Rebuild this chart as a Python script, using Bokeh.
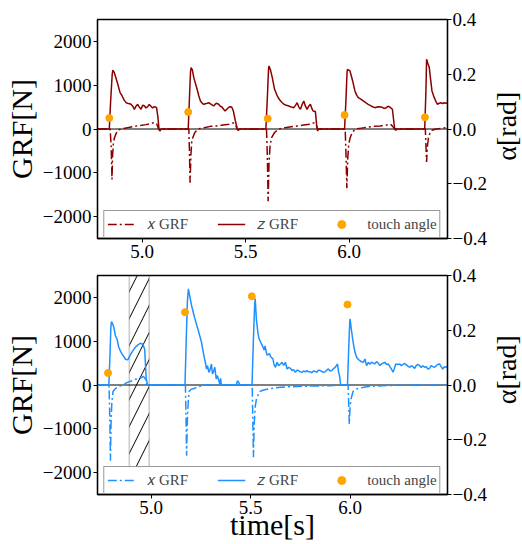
import math
from bokeh.plotting import figure
from bokeh.models import (Range1d, LinearAxis, Span, BoxAnnotation,
                          FixedTicker, CustomJSTickFormatter)
from bokeh.core.properties import value
from bokeh.layouts import column, row
from bokeh.embed import file_html
from bokeh.resources import INLINE

# ---------------- data ----------------
# top panel: time [s], GRF [N]
top_z = [(4.785, 0), (4.842, 0), (4.848, 600), (4.856, 1250), (4.859, 1342), (4.865, 1300),
         (4.872, 1200), (4.883, 1021), (4.894, 830), (4.904, 754), (4.914, 660), (4.923, 601),
         (4.935, 580), (4.947, 564), (4.955, 520), (4.963, 450), (4.971, 520), (4.979, 564),
         (4.987, 500), (4.995, 450), (5.003, 540), (5.011, 530), (5.019, 480), (5.027, 510),
         (5.035, 560), (5.043, 520), (5.051, 480), (5.059, 510), (5.07, 490), (5.076, 300),
         (5.082, 0), (5.087, -40), (5.092, 0),
         (5.223, 0), (5.229, 700), (5.234, 1300), (5.237, 1400), (5.243, 1350), (5.25, 1173),
         (5.258, 1040), (5.266, 907), (5.274, 760), (5.282, 640), (5.29, 590), (5.298, 564),
         (5.31, 580), (5.322, 601), (5.334, 560), (5.346, 526), (5.358, 590), (5.37, 564),
         (5.378, 520), (5.386, 503), (5.394, 450), (5.401, 411), (5.409, 450), (5.417, 487),
         (5.425, 510), (5.433, 503), (5.441, 411), (5.45, 200), (5.46, 0), (5.465, -30), (5.47, 0),
         (5.598, 0), (5.605, 700), (5.611, 1380), (5.613, 1440), (5.62, 1350), (5.629, 1173),
         (5.64, 907), (5.653, 754), (5.661, 690), (5.669, 640), (5.677, 600), (5.685, 564),
         (5.697, 540), (5.709, 526), (5.721, 500), (5.733, 487), (5.741, 540), (5.749, 601),
         (5.757, 500), (5.765, 450), (5.773, 560), (5.781, 640), (5.789, 520), (5.797, 450),
         (5.805, 520), (5.813, 564), (5.82, 470), (5.826, 411), (5.837, 400), (5.843, 100),
         (5.848, -46), (5.853, 0),
         (5.978, 0), (5.985, 700), (5.99, 1300), (5.992, 1364), (6.004, 1326), (6.01, 1220),
         (6.017, 1097), (6.028, 869), (6.036, 780), (6.044, 716), (6.056, 680), (6.068, 640),
         (6.08, 600), (6.092, 564), (6.108, 520), (6.124, 487), (6.14, 510), (6.156, 503),
         (6.168, 470), (6.18, 487), (6.188, 520), (6.196, 503), (6.204, 470), (6.209, 450),
         (6.215, 200), (6.22, 0), (6.225, -30), (6.23, 0),
         (6.365, 0), (6.371, 900), (6.374, 1592), (6.38, 1500), (6.387, 1402), (6.393, 1150),
         (6.4, 869), (6.411, 716), (6.42, 620), (6.427, 564), (6.435, 590), (6.443, 601),
         (6.451, 580), (6.459, 600), (6.467, 590), (6.475, 600)]
top_x = [(4.785, 0), (4.846, 0), (4.851, -400), (4.855, -1150), (4.858, -600), (4.862, -300),
         (4.867, -200), (4.875, -100), (4.885, -20), (4.9, 0), (4.93, 30), (4.96, 60),
         (4.99, 80), (5.02, 100), (5.04, 120), (5.06, 150), (5.07, 130), (5.08, 0), (5.087, -40),
         (5.092, 0),
         (5.226, 0), (5.229, -500), (5.232, -1227), (5.236, -600), (5.24, -300), (5.245, -200),
         (5.255, -80), (5.27, 0), (5.3, 30), (5.33, 60), (5.36, 70), (5.39, 90), (5.42, 110),
         (5.44, 140), (5.45, 100), (5.46, 0), (5.465, -30), (5.47, 0),
         (5.601, 0), (5.605, -600), (5.609, -1650), (5.613, -800), (5.618, -400), (5.625, -200),
         (5.64, -80), (5.66, 0), (5.69, 30), (5.72, 50), (5.75, 70), (5.78, 90), (5.81, 110),
         (5.83, 140), (5.84, 100), (5.848, 0),
         (5.981, 0), (5.985, -600), (5.989, -1350), (5.993, -700), (5.998, -350), (6.005, -200),
         (6.015, -80), (6.03, 0), (6.06, 20), (6.09, 40), (6.12, 60), (6.15, 70), (6.18, 90),
         (6.2, 110), (6.21, 60), (6.22, 0),
         (6.368, 0), (6.371, -400), (6.374, -750), (6.378, -400), (6.383, -200), (6.39, -100),
         (6.4, -30), (6.42, 0), (6.45, 20), (6.475, 30)]
top_touch_t = [4.842, 5.223, 5.607, 5.978, 6.366]
top_touch_alpha = [0.040, 0.062, 0.038, 0.051, 0.043]

# bottom panel
bot_z = [(4.73, 0), (4.787, 0), (4.793, 700), (4.797, 1300), (4.8, 1449), (4.806, 1400),
         (4.812, 1319), (4.82, 1129), (4.828, 1051), (4.837, 862), (4.845, 780), (4.853, 709),
         (4.862, 650), (4.87, 594), (4.878, 575), (4.883, 580), (4.89, 640), (4.898, 709),
         (4.909, 790), (4.92, 862), (4.932, 910), (4.945, 953), (4.958, 930), (4.967, 823),
         (4.972, 400), (4.975, 137), (4.982, 0),
         (5.17, 0), (5.176, 1000), (5.182, 1900), (5.187, 2194), (5.195, 2000), (5.203, 1815),
         (5.212, 1650), (5.22, 1509), (5.228, 1380), (5.237, 1243), (5.245, 1110), (5.253, 976),
         (5.259, 820), (5.265, 672), (5.272, 520), (5.278, 366), (5.283, 443), (5.29, 290),
         (5.295, 330), (5.303, 480), (5.308, 251), (5.313, 300), (5.32, 404), (5.327, 137),
         (5.333, 215), (5.34, 100), (5.345, 23), (5.349, 152), (5.353, 0),
         (5.428, 0), (5.434, 100), (5.44, 60), (5.445, 0),
         (5.507, 0), (5.513, 900), (5.52, 1800), (5.523, 1974), (5.529, 1500), (5.537, 1175),
         (5.543, 1050), (5.55, 983), (5.556, 920), (5.562, 869), (5.568, 800), (5.573, 892),
         (5.578, 760), (5.583, 679), (5.589, 700), (5.595, 718), (5.6, 650), (5.606, 620),
         (5.612, 603), (5.617, 480), (5.625, 404), (5.633, 519), (5.641, 443), (5.65, 480),
         (5.658, 519), (5.666, 450), (5.675, 519), (5.683, 366), (5.691, 404), (5.7, 380),
         (5.708, 330), (5.716, 350), (5.725, 290), (5.733, 340), (5.741, 329), (5.75, 300),
         (5.758, 290), (5.766, 320), (5.775, 300), (5.783, 329), (5.791, 300), (5.8, 300),
         (5.808, 280), (5.816, 320), (5.825, 310), (5.833, 290), (5.841, 340), (5.85, 329),
         (5.858, 310), (5.866, 290), (5.875, 300), (5.883, 340), (5.891, 366), (5.9, 320),
         (5.908, 330), (5.916, 370), (5.925, 404), (5.931, 440), (5.937, 480), (5.942, 300),
         (5.947, 215), (5.953, 0),
         (5.987, 0), (5.993, 800), (5.998, 1400), (6.0, 1509), (6.007, 1250), (6.013, 1051),
         (6.019, 880), (6.025, 747), (6.033, 633), (6.042, 580), (6.05, 557), (6.058, 530),
         (6.067, 519), (6.075, 594), (6.083, 443), (6.092, 519), (6.1, 470), (6.108, 519),
         (6.117, 500), (6.125, 481), (6.133, 534), (6.142, 500), (6.15, 443), (6.158, 480),
         (6.167, 500), (6.175, 519), (6.183, 470), (6.192, 481), (6.2, 420), (6.208, 366),
         (6.216, 290), (6.222, 366), (6.23, 481), (6.24, 470), (6.25, 481), (6.258, 440),
         (6.266, 470), (6.275, 490), (6.283, 460), (6.291, 430), (6.3, 404), (6.308, 440),
         (6.316, 420), (6.325, 380), (6.333, 450), (6.341, 470), (6.35, 443), (6.358, 400),
         (6.366, 440), (6.375, 404), (6.383, 420), (6.391, 366), (6.4, 380), (6.408, 443),
         (6.416, 420), (6.425, 404), (6.433, 440), (6.441, 470), (6.45, 481), (6.458, 420),
         (6.466, 366), (6.475, 420), (6.483, 404), (6.49, 430)]
bot_x = [(4.73, 0), (4.788, 0), (4.792, -800), (4.795, -1728), (4.798, -900), (4.802, -400),
         (4.808, -150), (4.815, -110), (4.83, -45), (4.86, 0), (4.88, 60), (4.9, 90),
         (4.92, 130), (4.945, 153), (4.96, 199), (4.97, 150), (4.978, 0),
         (5.172, 0), (5.175, -700), (5.178, -1615), (5.182, -800), (5.186, -400), (5.19, -150),
         (5.2, -100), (5.215, -80), (5.24, -40), (5.265, 0),
         (5.508, 0), (5.511, -800), (5.514, -1650), (5.518, -900), (5.523, -500), (5.53, -300),
         (5.545, -150), (5.56, -120), (5.6, -80), (5.65, -50), (5.7, -40), (5.8, -25),
         (5.9, -15), (5.95, 0),
         (5.99, 0), (5.993, -400), (5.996, -891), (6.0, -500), (6.006, -300), (6.015, -150),
         (6.033, -90), (6.07, -50), (6.1, -30), (6.2, -10), (6.3, 0), (6.49, 0)]
bot_touch_t = [4.783, 5.17, 5.506, 5.987]
bot_touch_alpha = [0.044, 0.266, 0.324, 0.294]

hatch_interval = [4.89, 4.99]

top_xlim = [4.785, 6.475]
bot_xlim = [4.73, 6.49]
grf_lim = [-2500, 2500]
alpha_lim = [-0.4, 0.4]
grf_ticks = [-2000, -1000, 0, 1000, 2000]
alpha_ticks = [-0.4, -0.2, 0.0, 0.2, 0.4]
time_ticks = [5.0, 5.5, 6.0]

FONT = "Liberation Serif"
MINUS_INT = "return tick.toFixed(0).replace('-', '\u2212');"
MINUS_1 = "return tick.toFixed(1).replace('-', '\u2212');"

MAIN_W = 489      # main figure width (frame 97..449 + right tick area)
LAB_W = 33        # strip holding the right-hand axis title


def style_axis(ax, fmt):
    ax.major_label_text_font = FONT
    ax.major_label_text_font_size = "19px"
    ax.major_label_text_color = "black"
    ax.axis_label_text_font = FONT
    ax.axis_label_text_font_size = "30px"
    ax.axis_label_text_font_style = "normal"
    ax.axis_label_text_color = "black"
    ax.major_tick_out = 4
    ax.major_tick_in = 0
    ax.minor_tick_out = 0
    ax.minor_tick_in = 0
    ax.major_tick_line_color = "black"
    ax.axis_line_color = "black"
    ax.axis_line_width = 1.3
    ax.major_label_standoff = 2
    ax.axis_label_standoff = 2
    ax.formatter = CustomJSTickFormatter(code=fmt)


def panel(z, x, tt, ta, color, xlim, height, top_border, bottom_border,
          hatch=None, xlabel=None):
    p = figure(width=MAIN_W, height=height,
               x_range=Range1d(*xlim), y_range=Range1d(*grf_lim),
               output_backend="svg", toolbar_location=None,
               min_border_left=97, min_border_right=MAIN_W - 97 - 352,
               min_border_top=top_border, min_border_bottom=bottom_border)
    p.extra_y_ranges = {"alpha": Range1d(*alpha_lim)}
    p.grid.visible = False
    p.outline_line_color = "black"
    p.outline_line_width = 1.3
    p.background_fill_color = "white"
    p.border_fill_color = "white"

    style_axis(p.xaxis[0], MINUS_1)
    p.xaxis[0].ticker = FixedTicker(ticks=time_ticks)
    if xlabel is not None:
        p.xaxis[0].axis_label = xlabel
        p.xaxis[0].axis_label_standoff = -9
    style_axis(p.yaxis[0], MINUS_INT)
    p.yaxis[0].ticker = FixedTicker(ticks=grf_ticks)
    p.yaxis[0].axis_label = "GRF[N]"

    ra = LinearAxis(y_range_name="alpha", ticker=FixedTicker(ticks=alpha_ticks))
    style_axis(ra, MINUS_1)
    ra.major_label_standoff = 1
    p.add_layout(ra, "right")

    if hatch is not None:
        p.add_layout(BoxAnnotation(left=hatch[0], right=hatch[1], fill_color=None,
                                   fill_alpha=0,
                                   hatch_pattern="/", hatch_color="black",
                                   hatch_scale=27, hatch_weight=1,
                                   line_color="#555555", line_width=1.6,
                                   level="underlay"))
    p.add_layout(Span(location=0, dimension="width", line_color="black",
                      line_width=1, level="underlay"))

    xt, xv = zip(*x)
    zt, zv = zip(*z)
    p.line(list(xt), list(xv), color=color, line_width=1.5, line_dash="9 3 2 3",
           legend_label="𝑥 GRF")
    p.line(list(zt), list(zv), color=color, line_width=1.5, legend_label="𝑧 GRF")
    p.scatter(tt, ta, y_range_name="alpha", size=7, color="#ffa500",
              legend_label="touch angle")

    lg = p.legend[0]
    lg.orientation = "horizontal"
    lg.location = "bottom_center"
    lg.margin = 0
    lg.padding = 3
    lg.spacing = 29
    lg.glyph_width = 28
    lg.glyph_height = 20
    lg.label_standoff = 12
    lg.label_text_font = FONT
    lg.label_text_font_size = "15px"
    lg.label_height = 20
    lg.border_line_color = "#333333"
    lg.border_line_width = 1.2
    lg.background_fill_color = "white"
    lg.background_fill_alpha = 1.0
    return p


def title_strip(height, frame_top, frame_h, text):
    # narrow strip to the right of a panel carrying the rotated right-axis title
    f = figure(width=LAB_W, height=height, x_range=Range1d(0, 1),
               y_range=Range1d(0, height), output_backend="svg",
               toolbar_location=None, min_border=0,
               x_axis_type=None, y_axis_type=None)
    f.outline_line_color = None
    f.grid.visible = False
    f.background_fill_color = "white"
    f.border_fill_color = "white"
    f.text(x=[0.5], y=[height - frame_top - frame_h / 2], text=[text],
           angle=math.pi / 2, text_align="center", text_baseline="middle",
           text_font=value(FONT), text_font_size="28px", text_color="black")
    return f


# top: frame rows 19..238 ; bottom: frame rows 275..494
p1 = panel(top_z, top_x, top_touch_t, top_touch_alpha, "#8b0000", top_xlim,
           264, 19, 26)
p2 = panel(bot_z, bot_x, bot_touch_t, bot_touch_alpha, "#1e90ff", bot_xlim,
           280, 11, 50, hatch=hatch_interval, xlabel="time[s]")
s1 = title_strip(264, 19, 219, "α[rad]")
s2 = title_strip(280, 11, 219, "α[rad]")

layout = column(row(p1, s1), row(p2, s2))
open("out.html", "w").write(file_html(layout, INLINE))
